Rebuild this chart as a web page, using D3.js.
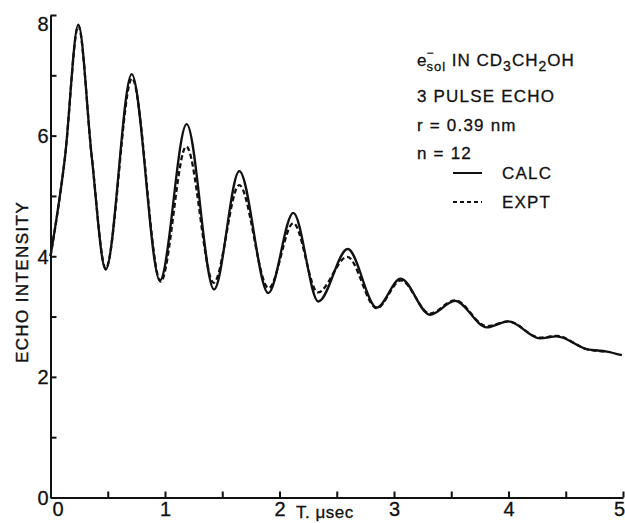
<!DOCTYPE html>
<html>
<head>
<meta charset="utf-8">
<script src="https://cdn.jsdelivr.net/npm/d3@7"></script>
<style>
  html, body { margin: 0; padding: 0; background: #fff; }
  svg { display: block; }
  text { font-family: "Liberation Sans", Arial, sans-serif; fill: #111; }
</style>
</head>
<body>
<svg id="chart" width="625" height="523"></svg>
<script>
// ---- data ----
const calcTimes  = [0, 0.127, 0.243, 0.36, 0.482, 0.709, 0.956, 1.189, 1.428, 1.649, 1.902, 2.121, 2.339, 2.596, 2.849, 3.058, 3.314, 3.533, 3.81, 3.998, 4.275, 4.42, 4.683, 4.86, 4.99];
const calcValues = [4.0, 5.65, 7.84, 5.65, 3.78, 7.02, 3.60, 6.19, 3.45, 5.41, 3.39, 4.72, 3.25, 4.12, 3.15, 3.63, 3.03, 3.26, 2.82, 2.92, 2.64, 2.67, 2.46, 2.42, 2.36];
const exptTimes  = [0, 0.127, 0.243, 0.36, 0.482, 0.712, 0.962, 1.186, 1.425, 1.648, 1.905, 2.121, 2.335, 2.592, 2.849, 3.06, 3.314, 3.533, 3.81, 3.998, 4.275, 4.42, 4.683, 4.86];
const exptValues = [4.0, 5.65, 7.82, 5.66, 3.80, 6.95, 3.58, 5.82, 3.56, 5.18, 3.47, 4.55, 3.40, 3.99, 3.14, 3.60, 3.05, 3.27, 2.84, 2.92, 2.65, 2.68, 2.46, 2.42];
const xTicks = [0, 0.5, 1, 1.5, 2, 2.5, 3, 3.5, 4, 4.5, 5];
const yTicks = [0, 1, 2, 3, 4, 5, 6, 7, 8];
const xLabel = "T. μsec";
const yLabel = "ECHO INTENSITY";
const legendLines = ["3 PULSE ECHO", "r = 0.39 nm", "n = 12"];
const seriesNames = ["CALC", "EXPT"];

// ---- scales ----
const svg = d3.select("#chart");
const x = d3.scaleLinear().domain([0, 5]).range([50.5, 623]);
const y = d3.scaleLinear().domain([0, 8]).range([497.5, 15]);

// ---- axes ----
const xAxis = d3.axisBottom(x)
  .tickValues(xTicks)
  .tickSizeInner(-6).tickSizeOuter(0).tickPadding(4)
  .tickFormat(d => Number.isInteger(d) ? String(d) : "");
const gx = svg.append("g").attr("transform", `translate(0,${y(0)})`).call(xAxis);

const yAxis = d3.axisLeft(y)
  .tickValues(yTicks)
  .tickSizeInner(-6).tickSizeOuter(0).tickPadding(2)
  .tickFormat(d => d % 2 === 0 ? String(d) : "");
const gy = svg.append("g").attr("transform", `translate(${x(0)},0)`).call(yAxis);

[gx, gy].forEach(g => {
  g.select(".domain").attr("stroke", "#111").attr("stroke-width", 2);
  g.selectAll(".tick line").attr("stroke", "#111").attr("stroke-width", 2);
  g.selectAll(".tick text").attr("font-size", 20).attr("fill", "#111")
    .attr("stroke", "#111").attr("stroke-width", 0.3)
    .attr("font-family", "Liberation Sans, Arial, sans-serif");
});
gx.selectAll(".tick text").attr("dx", d => d === 0 ? 7 : (d === 5 ? -4 : 0));
gy.selectAll(".tick text").attr("dy", d => d === 8 ? "0.75em" : "0.35em");

// axis titles
svg.append("text")
  .attr("x", 296).attr("y", 518)
  .attr("font-size", 17).attr("letter-spacing", 0.5)
  .attr("stroke", "#111").attr("stroke-width", 0.3)
  .text(xLabel);
svg.append("text")
  .attr("transform", "translate(28,282) rotate(-90)")
  .attr("text-anchor", "middle")
  .attr("font-size", 17).attr("letter-spacing", 1.4)
  .attr("stroke", "#111").attr("stroke-width", 0.4)
  .text(yLabel);

// ---- curves ----
const line = d3.line()
  .x(d => x(d[0])).y(d => y(d[1]))
  .curve(d3.curveMonotoneX);

const exptData = exptTimes.map((t, i) => [t, exptValues[i]]);
const calcData = calcTimes.map((t, i) => [t, calcValues[i]]);

svg.append("path").datum(exptData)
  .attr("d", line).attr("fill", "none")
  .attr("stroke", "#111").attr("stroke-width", 2.3)
  .attr("stroke-dasharray", "5,3");
svg.append("path").datum(calcData)
  .attr("d", line).attr("fill", "none")
  .attr("stroke", "#111").attr("stroke-width", 2.3);

// ---- legend / annotation ----
const leg = svg.append("g").attr("stroke", "#111").attr("stroke-width", 0.3);
const t1 = leg.append("text").attr("x", 417).attr("y", 66).attr("font-size", 17).attr("letter-spacing", 1);
t1.append("tspan").text("e");
t1.append("tspan").attr("font-size", 12).attr("dy", -9).attr("dx", -1).text("−");
t1.append("tspan").attr("font-size", 13).attr("dy", 14).attr("dx", -8).text("sol");
t1.append("tspan").attr("dy", -5).text("  IN  CD");
t1.append("tspan").attr("font-size", 14).attr("dy", 5).text("3");
t1.append("tspan").attr("dy", -5).text("CH");
t1.append("tspan").attr("font-size", 14).attr("dy", 5).text("2");
t1.append("tspan").attr("dy", -5).text("OH");

leg.selectAll("text.info").data(legendLines).enter().append("text")
  .attr("class", "info")
  .attr("x", 417).attr("y", (d, i) => 102 + i * 28.5)
  .attr("font-size", 17).attr("letter-spacing", 1.2)
  .text(d => d);

const swatchY = [173, 202];
seriesNames.forEach((name, i) => {
  leg.append("line")
    .attr("x1", 453).attr("x2", 482)
    .attr("y1", swatchY[i]).attr("y2", swatchY[i])
    .attr("stroke", "#111").attr("stroke-width", 2)
    .attr("stroke-dasharray", i === 1 ? "4,3" : null);
  leg.append("text")
    .attr("x", 502).attr("y", swatchY[i] + 6)
    .attr("font-size", 17).attr("letter-spacing", 1.2)
    .text(name);
});
</script>
</body>
</html>
